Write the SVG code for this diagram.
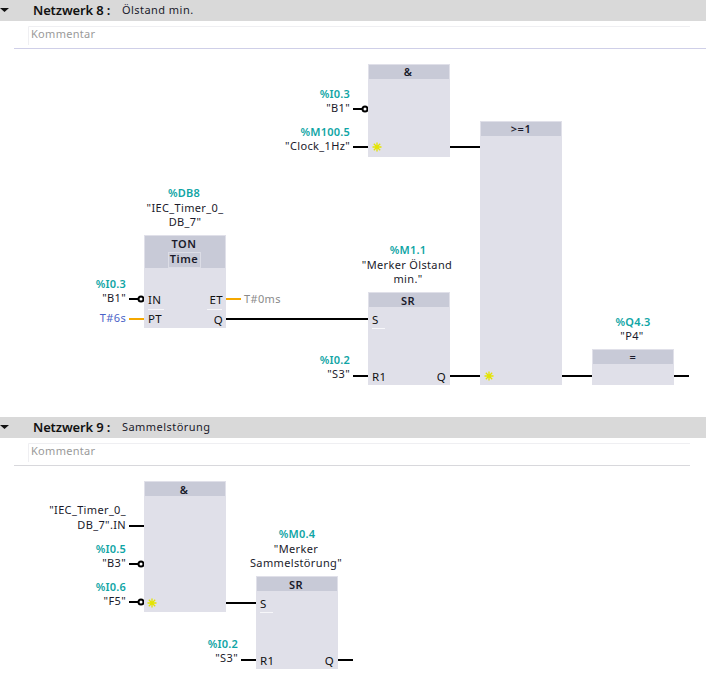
<svg xmlns="http://www.w3.org/2000/svg" width="706" height="686" viewBox="0 0 706 686">
<style>
text{font-family:"Noto Sans","DejaVu Sans",sans-serif;font-size:11px;fill:#1a1a2a;letter-spacing:.35px}
.hd{fill:#d9d9d9}
.title{font-size:13px;font-weight:600;fill:#111;letter-spacing:-.15px}
.sub{font-size:11px;letter-spacing:.45px}
.cm{fill:#9a9a9a;letter-spacing:.3px}
.ad{fill:#0fa5a5;font-weight:600;text-anchor:end;font-size:11px;letter-spacing:.2px}
.adm{fill:#0fa5a5;font-weight:600;text-anchor:middle;font-size:11px;letter-spacing:.2px}
.nm{text-anchor:end}
.nmm{text-anchor:middle}
.b{fill:#e0e0e9}
.bh{fill:#c8cad7}
.bt{font-weight:600;text-anchor:middle;font-size:11px;letter-spacing:.5px}
.pin{font-size:11.500px;fill:#111}
.pr{font-size:11.500px;fill:#111;text-anchor:end}
.w{stroke:#000;stroke-width:2;fill:none}
.o{stroke:#f5a800;stroke-width:2;fill:none}
.n{stroke:#000;stroke-width:2;fill:#fff}
.st{stroke:#e4e400;stroke-width:1.300;fill:none}
.tl{stroke:#efeff2;stroke-width:1;fill:none}
.pl{stroke:#f7f7fa;stroke-width:1;fill:none}
</style>
<defs>
<path id="star" class="st" d="M-4.500 0H4.500M0-4.500V4.500M-3.200-3.200L3.200 3.200M-3.200 3.200L3.200-3.200"/>
</defs>
<rect width="706" height="686" fill="#fff"/>
<g id="network8-header">
<rect class="hd" width="706" height="21"/>
<path d="M0 8H9L4.500 12Z" fill="#111"/>
<text class="title" x="33" y="15">Netzwerk 8 :</text>
<text class="sub" x="122" y="14">Ölstand min.</text>
<path class="tl" d="M28.500 45V26.500H690"/>
<text class="cm" x="31" y="38">Kommentar</text>
<path d="M14 48.500H706" stroke="#cfcfe8"/>
</g>
<g id="network9-header">
<rect class="hd" y="417" width="706" height="21"/>
<path d="M0 425H9L4.500 429Z" fill="#111"/>
<text class="title" x="33" y="432">Netzwerk 9 :</text>
<text class="sub" x="122" y="431">Sammelstörung</text>
<path class="tl" d="M28.500 462V443.500H690"/>
<text class="cm" x="31" y="455">Kommentar</text>
<path d="M14 465.500H690" stroke="#d8d8dc"/>
</g>
<g id="connectors">
<path class="w" d="M353 109H362M353 147H368M450 147H480M226 319H368M353 376H368M450 376H480M562 376H592M674 376H689"/>
<path class="w" d="M129 299H138M129 526H144M129 564H138M129 602H138M226 603H256M241 660H256M338 660H353"/>
<path class="o" d="M129 319H144M226 299H241"/>
<circle class="n" cx="365" cy="109" r="2.500"/>
<circle class="n" cx="141" cy="299" r="2.500"/>
<circle class="n" cx="141" cy="564" r="2.500"/>
<circle class="n" cx="141" cy="602" r="2.500"/>
</g>
<g id="n8-and">
<rect class="b" x="368" y="64" width="82" height="93"/><rect class="bh" x="369" y="65" width="80" height="14"/>
<text class="bt" x="408" y="76">&amp;</text>
<use href="#star" x="377" y="147"/>
<text class="ad" x="350" y="98">%I0.3</text><text class="nm" x="350" y="112">"B1"</text>
<text class="ad" x="350" y="136">%M100.5</text><text class="nm" x="350" y="150">"Clock_1Hz"</text>
</g>
<g id="n8-or">
<rect class="b" x="480" y="121" width="82" height="264"/><rect class="bh" x="481" y="122" width="80" height="14"/>
<text class="bt" x="521" y="133">&gt;=1</text>
<use href="#star" x="489" y="376"/>
</g>
<g id="n8-ton">
<rect class="b" x="144" y="235" width="82" height="93"/><rect class="bh" x="145" y="236" width="80" height="32"/>
<text class="adm" x="184" y="197">%DB8</text>
<text class="nmm" x="185" y="212">"IEC_Timer_0_</text><text class="nmm" x="185" y="226">DB_7"</text>
<text class="bt" x="184" y="248">TON</text>
<rect x="168.500" y="252.500" width="32" height="15" fill="none" stroke="#dcdde6"/>
<text class="bt" x="184" y="263">Time</text>
<text class="pin" x="148" y="304">IN</text><text class="pin" x="148" y="323">PT</text>
<text class="pr" x="223" y="304">ET</text><text class="pr" x="223" y="324">Q</text>
<path class="pl" d="M148 309.500H164M207 309.500H222"/>
<text class="ad" x="126" y="288">%I0.3</text><text class="nm" x="126" y="302">"B1"</text>
<text class="nm" x="126" y="322" style="fill:#4a63c8">T#6s</text>
<text x="244" y="303" style="fill:#8a8a8a">T#0ms</text>
</g>
<g id="n8-sr">
<rect class="b" x="368" y="292" width="82" height="93"/><rect class="bh" x="369" y="293" width="80" height="14"/>
<text class="bt" x="408" y="305">SR</text>
<text class="adm" x="408" y="254">%M1.1</text>
<text class="nmm" x="407" y="269">"Merker Ölstand</text><text class="nmm" x="408" y="283">min."</text>
<text class="pin" x="372" y="324">S</text><text class="pin" x="372" y="381">R1</text><text class="pr" x="446" y="381">Q</text>
<path class="pl" d="M372 328.500H385"/>
<text class="ad" x="350" y="364">%I0.2</text><text class="nm" x="350" y="378">"S3"</text>
</g>
<g id="n8-assign">
<rect class="b" x="592" y="349" width="82" height="36"/><rect class="bh" x="593" y="350" width="80" height="14"/>
<text class="bt" x="633" y="361">=</text>
<text class="adm" x="633" y="326">%Q4.3</text><text class="nmm" x="632" y="340">"P4"</text>
</g>
<g id="n9-and">
<rect class="b" x="144" y="481" width="82" height="131"/><rect class="bh" x="145" y="482" width="80" height="14"/>
<text class="bt" x="184" y="494">&amp;</text>
<use href="#star" x="152" y="603"/>
<text class="nm" x="126" y="514">"IEC_Timer_0_</text><text class="nm" x="126" y="529">DB_7".IN</text>
<text class="ad" x="126" y="553">%I0.5</text><text class="nm" x="126" y="567">"B3"</text>
<text class="ad" x="126" y="591">%I0.6</text><text class="nm" x="126" y="605">"F5"</text>
</g>
<g id="n9-sr">
<rect class="b" x="256" y="576" width="82" height="93"/><rect class="bh" x="257" y="577" width="80" height="14"/>
<text class="bt" x="296" y="589">SR</text>
<text class="adm" x="297" y="538">%M0.4</text>
<text class="nmm" x="296" y="553">"Merker</text><text class="nmm" x="296" y="567">Sammelstörung"</text>
<text class="pin" x="260" y="608">S</text><text class="pin" x="260" y="665">R1</text><text class="pr" x="334" y="665">Q</text>
<path class="pl" d="M260 612.500H273"/>
<text class="ad" x="238" y="648">%I0.2</text><text class="nm" x="238" y="662">"S3"</text>
</g>
</svg>
